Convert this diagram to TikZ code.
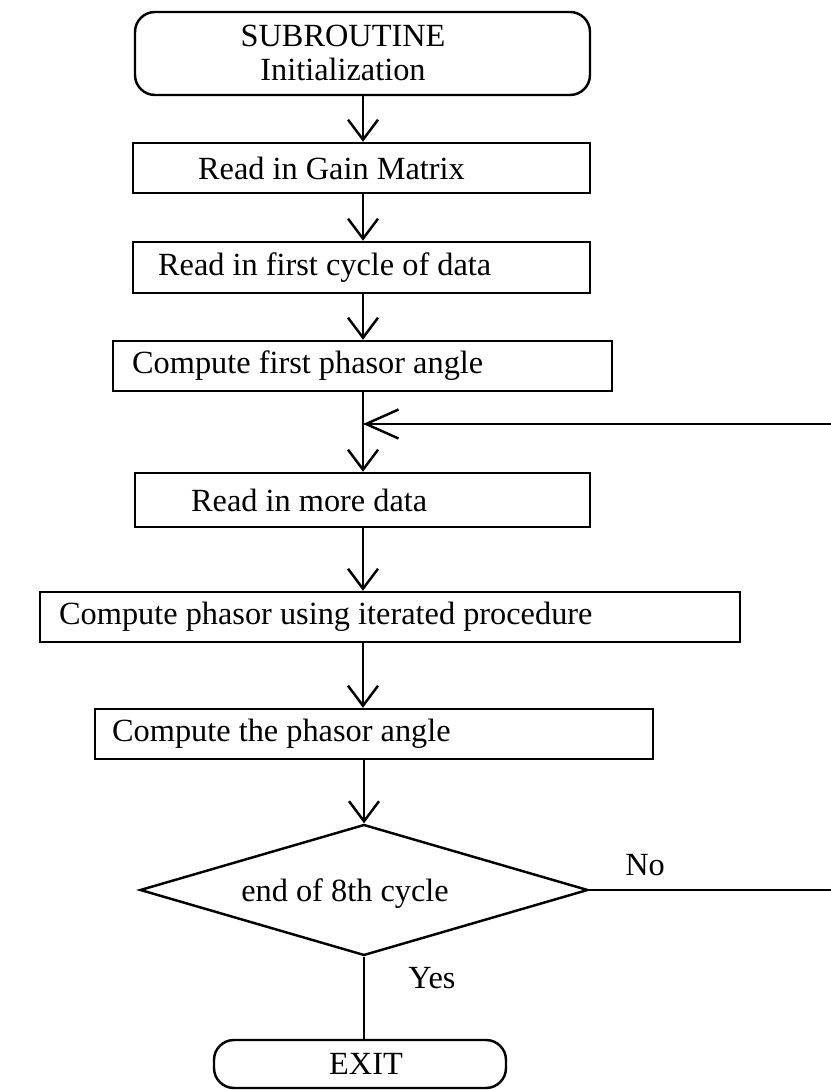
\documentclass[tikz,border=0pt]{standalone}
\usepackage{fontspec}
\setmainfont{Liberation Serif}
\usetikzlibrary{shapes.geometric,arrows.meta,positioning,calc}

\begin{document}
\begin{tikzpicture}[
		box/.style={draw, line width=1.4pt, minimum height=1cm, inner sep=0pt},
		term/.style={draw, line width=1.4pt, rounded corners=0.4cm, inner sep=0pt},
		txt/.style={inner sep=0pt, font=\fontsize{18.4}{19}\selectfont},
		conn/.style={line width=1.1pt},
		arr/.style={conn, -{Straight Barb[length=4mm,width=6mm,line width=1.4pt]}},
		looparr/.style={conn, -{Straight Barb[length=6.5mm,width=5.8mm,line width=1.4pt]}}
	]
		\useasboundingbox (0,0) rectangle (16.6,21.8);
		\coordinate (spine) at (7.26,0);

		% Start terminal
		\node[term, minimum width=9.1cm, minimum height=1.66cm] (start) at (7.25,20.73) {};
		\node[txt, align=center] (starttxt) at (6.86,20.74) {SUBROUTINE\\Initialization};

		% Input and first angle
		\node[box, minimum width=9.14cm] (gain) at (7.23,18.44) {};
		\node[txt, right=1.32cm of gain.west] (gaintxt) {Read in Gain Matrix};

		\node[box, minimum width=9.14cm, minimum height=1.02cm] (first) at (7.23,16.45) {};
		\node[txt, right=0.52cm of first.west] (firsttxt) {Read in first cycle of data};

		\node[box, minimum width=9.98cm] (angle1) at (7.25,14.48) {};
		\node[txt, right=0.4cm of angle1.west] (angle1txt) {Compute first phasor angle};

		% Loop body
		\coordinate (loopin) at (7.26,13.32);
		\coordinate (loopright) at (16.75,13.32);

		\node[box, minimum width=9.1cm, minimum height=1.08cm] (more) at (7.25,11.8) {};
		\node[txt, right=1.14cm of more.west] (moretxt) {Read in more data};

		\node[box, minimum width=14cm] (iter) at (7.8,9.46) {};
		\node[txt, right=0.4cm of iter.west] (itertxt) {Compute phasor using iterated procedure};

		\node[box, minimum width=11.16cm] (angle) at (7.48,7.12) {};
		\node[txt, right=0.36cm of angle.west] (angletxt) {Compute the phasor angle};

		% Decision
		\node[draw, diamond, line width=1.4pt, inner sep=0pt, minimum width=8.96cm, minimum height=2.62cm] (cyc) at (7.28,4.0) {};
		\node[txt] (cyctxt) at (6.9,3.92) {end of 8th cycle};
		\node[txt] (no) at (12.9,4.5) {No};
		\node[txt] (yes) at (8.64,2.24) {Yes};

		% Exit terminal
		\node[term, minimum width=5.84cm, minimum height=0.96cm] (exit) at (7.2,0.52) {};
		\node[txt] (exittxt) at (7.32,0.52) {EXIT};

		% Connectors
		\draw[arr] (start.south -| spine) -- (gain.north -| spine);
		\draw[arr] (gain.south -| spine) -- (first.north -| spine);
		\draw[arr] (first.south -| spine) -- (angle1.north -| spine);
		\draw[arr] (angle1.south -| spine) -- (more.north -| spine);
		\draw[arr] (more.south -| spine) -- (iter.north -| spine);
		\draw[arr] (iter.south -| spine) -- (angle.north -| spine);
		\draw[arr] (cyc.north |- angle.south) -- (cyc.north);
		\draw[conn] (cyc.south) -- (cyc.south |- exit.north);
		\draw[looparr] (cyc.east) -| (loopright) -- (loopin);
	\end{tikzpicture}
\end{document}
